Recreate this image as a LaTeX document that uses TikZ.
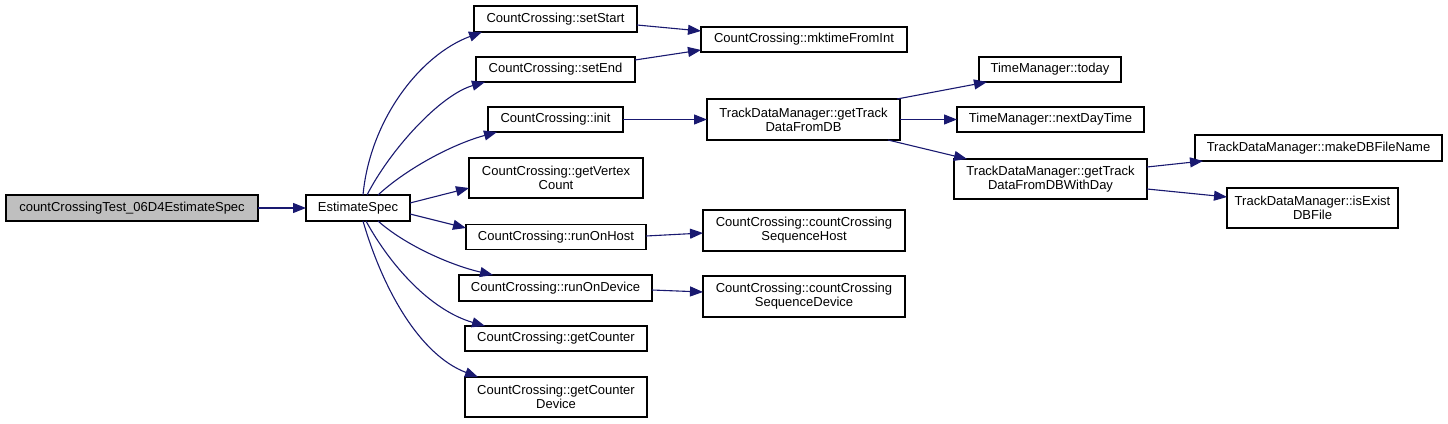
\documentclass[tikz,border=0pt]{standalone}
\usepackage{fontspec}
\setmainfont{Liberation Sans}
\usetikzlibrary{arrows.meta}
\definecolor{edgec}{HTML}{191970}
\definecolor{rootfill}{HTML}{BFBFBF}
\begin{document}
\begin{tikzpicture}[x=1pt,y=1pt,
  box/.style={draw=black, line width=1.1pt, inner sep=0pt, outer sep=0pt, align=center, font=\fontsize{13}{14}\selectfont},
  edge/.style={draw=edgec, line width=1.1pt, -{Triangle[length=13pt,width=10pt]}}]
\useasboundingbox (0,0) rectangle (1448,-423);
% nodes
\node[box, fill=rootfill, minimum width=252, minimum height=26] (root) at (132,-208) {countCrossingTest\_06D4EstimateSpec};
\node[box, minimum width=104, minimum height=26] (est) at (358,-208) {EstimateSpec};
\node[box, minimum width=163, minimum height=26] (setStart) at (555.5,-19) {CountCrossing::setStart};
\node[box, minimum width=159, minimum height=25] (setEnd) at (555.5,-69.5) {CountCrossing::setEnd};
\node[box, minimum width=135, minimum height=25] (init) at (555.5,-119.5) {CountCrossing::init};
\node[box, minimum width=174, minimum height=40] (getVertex) at (556,-178) {CountCrossing::getVertex\\Count};
\node[box, minimum width=180, minimum height=25] (runOnHost) at (556,-237) {CountCrossing::runOnHost};
\node[box, minimum width=193, minimum height=26] (runOnDevice) at (555.5,-288) {CountCrossing::runOnDevice};
\node[box, minimum width=182, minimum height=25] (getCounter) at (556,-338.5) {CountCrossing::getCounter};
\node[box, minimum width=182, minimum height=40] (getCounterDevice) at (556,-397) {CountCrossing::getCounter\\Device};
\node[box, minimum width=206, minimum height=25] (mktime) at (804,-39.5) {CountCrossing::mktimeFromInt};
\node[box, minimum width=193, minimum height=41] (gtdfdb) at (803.5,-119.5) {TrackDataManager::getTrack\\DataFromDB};
\node[box, minimum width=142, minimum height=25] (today) at (1050,-69.5) {TimeManager::today};
\node[box, minimum width=187, minimum height=25] (nextDay) at (1050.5,-119.5) {TimeManager::nextDayTime};
\node[box, minimum width=193, minimum height=40] (gtdfdbwd) at (1050.5,-179) {TrackDataManager::getTrack\\DataFromDBWithDay};
\node[box, minimum width=202, minimum height=41] (seqHost) at (804,-230.5) {CountCrossing::countCrossing\\SequenceHost};
\node[box, minimum width=202, minimum height=41] (seqDevice) at (804,-296.5) {CountCrossing::countCrossing\\SequenceDevice};
\node[box, minimum width=247, minimum height=26] (makeDB) at (1318.5,-148) {TrackDataManager::makeDBFileName};
\node[box, minimum width=171, minimum height=40] (isExist) at (1312.5,-208) {TrackDataManager::isExist\\DBFile};
% edges
\draw[edge] (root) -- (est);
\draw[edge] ([xshift=5]est.north) .. controls (370,-120) and (420,-55) .. ([xshift=8]setStart.south west);
\draw[edge] ([xshift=9]est.north) .. controls (390,-150) and (440,-95) .. ([xshift=9]setEnd.south west);
\draw[edge] ([xshift=20]est.north) .. controls (405,-170) and (450,-145) .. ([xshift=9]init.south west);
\draw[edge] ([yshift=5]est.east) -- ([yshift=-10]getVertex.west);
\draw[edge] ([yshift=-6]est.east) -- ([yshift=9]runOnHost.west);
\draw[edge] ([xshift=20]est.south) .. controls (405,-245) and (450,-265) .. ([xshift=34]runOnDevice.north west);
\draw[edge] ([xshift=8]est.south) .. controls (390,-265) and (430,-310) .. ([xshift=20]getCounter.north west);
\draw[edge] ([xshift=5]est.south) .. controls (383,-290) and (420,-355) .. ([xshift=13]getCounterDevice.north west);
\draw[edge] ([yshift=-6]setStart.east) -- ([yshift=8.5]mktime.west);
\draw[edge] ([yshift=9.5]setEnd.east) -- ([yshift=-10.5]mktime.west);
\draw[edge] (init) -- (gtdfdb);
\draw[edge] ([yshift=1]runOnHost.east) -- ([yshift=-2.5]seqHost.west);
\draw[edge] ([yshift=-2]runOnDevice.east) -- ([yshift=4.5]seqDevice.west);
\draw[edge] ([xshift=-3]gtdfdb.north east) -- ([xshift=8]today.south west);
\draw[edge] (gtdfdb) -- (nextDay);
\draw[edge] ([xshift=-12]gtdfdb.south east) -- ([xshift=13]gtdfdbwd.north west);
\draw[edge] ([yshift=12]gtdfdbwd.east) -- ([xshift=8]makeDB.south west);
\draw[edge] ([yshift=-10]gtdfdbwd.east) -- ([yshift=11]isExist.west);
\end{tikzpicture}
\end{document}
